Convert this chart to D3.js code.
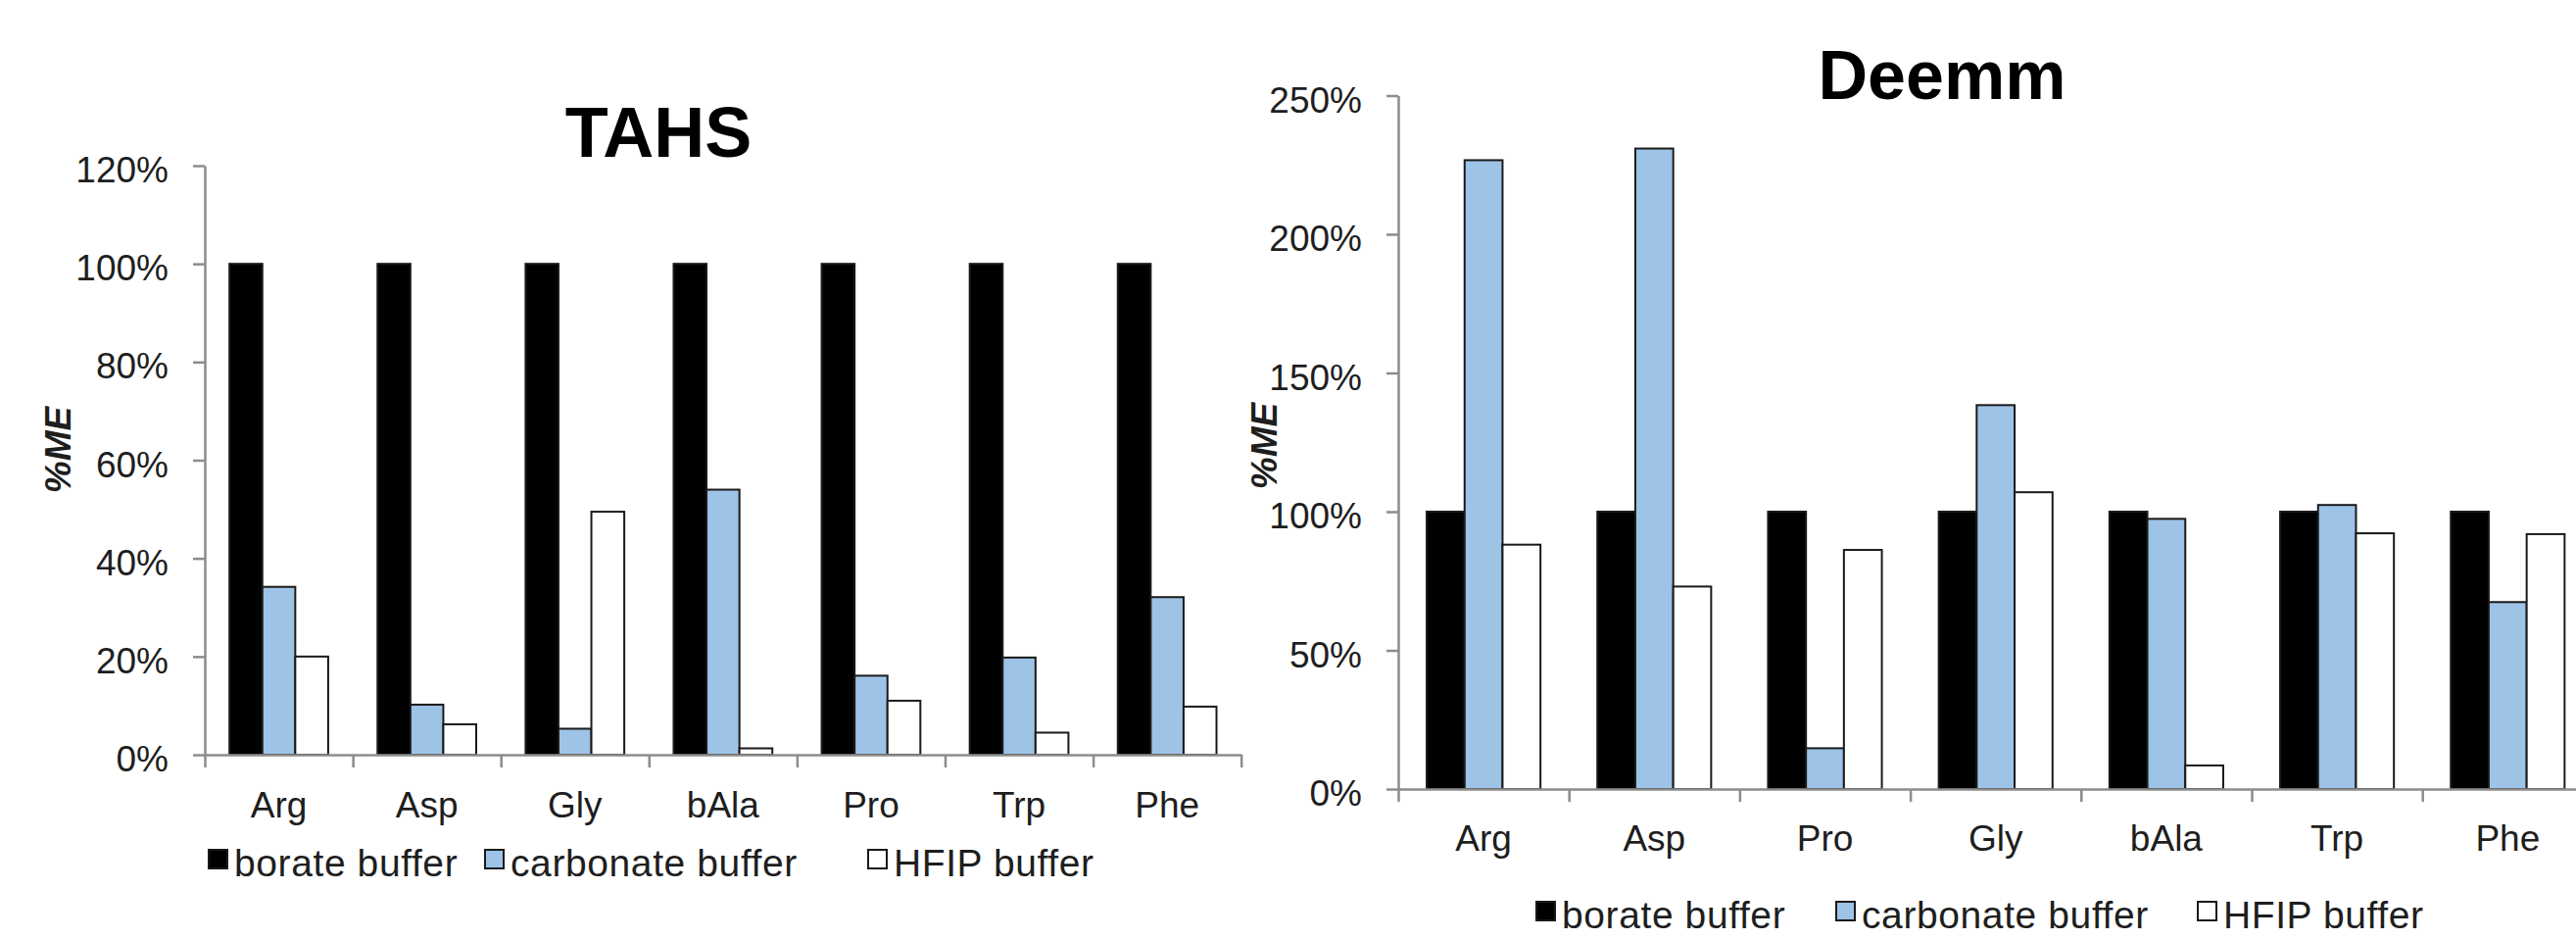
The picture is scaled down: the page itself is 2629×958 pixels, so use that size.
<!DOCTYPE html>
<html>
<head>
<meta charset="utf-8">
<script src="https://cdn.jsdelivr.net/npm/d3@7"></script>
<style>
  html, body { margin: 0; padding: 0; background: #fff; }
  svg { display: block; }
  text { font-family: "Liberation Sans", Arial, sans-serif; }
</style>
</head>
<body>
<svg id="chart" width="2629" height="958"></svg>
<script>
// ---- data ----
const seriesNames = ["borate buffer", "carbonate buffer", "HFIP buffer"];

const tahsCategories = ["Arg", "Asp", "Gly", "bAla", "Pro", "Trp", "Phe"];
const tahsBorate     = [100, 100, 100, 100, 100, 100, 100];
const tahsCarbonate  = [34.2, 10.2, 5.3, 54, 16.1, 19.8, 32.1];
const tahsHFIP       = [20, 6.2, 49.5, 1.3, 11, 4.5, 9.8];
const tahsTicks      = [0, 20, 40, 60, 80, 100, 120];

const deemmCategories = ["Arg", "Asp", "Pro", "Gly", "bAla", "Trp", "Phe"];
const deemmBorate     = [100, 100, 100, 100, 100, 100, 100];
const deemmCarbonate  = [226.7, 230.9, 14.7, 138.4, 97.4, 102.4, 67.4];
const deemmHFIP       = [88.1, 73, 86.2, 107, 8.5, 92.2, 91.9];
const deemmTicks      = [0, 50, 100, 150, 200, 250];

// ---- styles ----
const fills = ["#000000", "#9dc3e6", "#ffffff"];
const axisColor = "#8c8c8c";
const textColor = "#1e1e1e";

const svg = d3.select("#chart");

function drawChart(cfg) {
  const g = svg.append("g");
  const y = d3.scaleLinear().domain([0, cfg.yMax]).range([cfg.y0, cfg.yTop]);
  const x = d3.scaleBand().domain(cfg.categories).range([cfg.x0, cfg.x0 + cfg.step * cfg.categories.length]).paddingInner(0).paddingOuter(0);
  const xs = d3.scaleBand().domain(seriesNames).range([0, x.bandwidth()]).paddingInner(0).paddingOuter(0.75);

  const rows = cfg.categories.map((c, i) => ({
    cat: c,
    vals: [cfg.s[0][i], cfg.s[1][i], cfg.s[2][i]]
  }));

  // bars
  const grp = g.append("g").selectAll("g").data(rows).join("g")
    .attr("transform", d => `translate(${x(d.cat)},0)`);
  grp.selectAll("rect").data(d => d.vals.map((v, k) => ({ v, k })))
    .join("rect")
    .attr("x", d => xs(seriesNames[d.k]))
    .attr("width", xs.bandwidth())
    .attr("y", d => y(d.v))
    .attr("height", d => y(0) - y(d.v))
    .attr("fill", d => fills[d.k])
    .attr("stroke", "#1a1a1a")
    .attr("stroke-width", 2);

  // y axis
  const ya = g.append("g").attr("transform", `translate(${cfg.x0},0)`)
    .call(d3.axisLeft(y).tickValues(cfg.ticks).tickFormat(d => d + "%").tickSize(12).tickSizeOuter(0).tickPadding(25));
  ya.select(".domain").attr("stroke", axisColor).attr("stroke-width", 2.5);
  ya.selectAll(".tick line").attr("stroke", axisColor).attr("stroke-width", 2.5);
  ya.selectAll(".tick text").attr("fill", textColor).attr("font-size", 37).attr("dy", "0.45em");

  // x axis boundaries
  const n = cfg.categories.length;
  const xb = d3.scaleLinear().domain([0, n]).range([cfg.x0, cfg.x0 + cfg.step * n]);
  const xa = g.append("g").attr("transform", `translate(0,${cfg.y0})`)
    .call(d3.axisBottom(xb).tickValues(d3.range(n + 1)).tickFormat("").tickSize(13).tickSizeOuter(0));
  xa.select(".domain").attr("stroke", axisColor).attr("stroke-width", 2.5);
  xa.selectAll(".tick line").attr("stroke", axisColor).attr("stroke-width", 2.5);

  // category labels
  const xl = g.append("g").attr("transform", `translate(0,${cfg.y0})`)
    .call(d3.axisBottom(x).tickSize(0).tickPadding(cfg.labelPad));
  xl.select(".domain").remove();
  xl.selectAll(".tick text").attr("fill", textColor).attr("font-size", 37);

  // title
  g.append("text").attr("x", cfg.titleX).attr("y", cfg.titleY)
    .attr("text-anchor", "middle").attr("font-weight", "bold")
    .attr("font-size", cfg.titleSize).attr("fill", "#000").text(cfg.title);

  // y label
  g.append("text")
    .attr("transform", `translate(${cfg.ylabX},${cfg.ylabY}) rotate(-90)`)
    .attr("text-anchor", "middle").attr("dy", "0.35em")
    .attr("font-weight", "bold").attr("font-style", "italic")
    .attr("font-size", 37).attr("fill", textColor).text("%ME");

  // legend
  const lg = g.append("g");
  seriesNames.forEach((name, k) => {
    lg.append("rect")
      .attr("x", cfg.legX[k]).attr("y", cfg.legY - 27)
      .attr("width", 19).attr("height", 19)
      .attr("fill", fills[k]).attr("stroke", "#1a1a1a").attr("stroke-width", 2);
    lg.append("text")
      .attr("x", cfg.legX[k] + 26).attr("y", cfg.legY)
      .attr("font-size", 39).attr("letter-spacing", 0.6)
      .attr("fill", textColor).text(name);
  });
}

drawChart({
  categories: tahsCategories,
  s: [tahsBorate, tahsCarbonate, tahsHFIP],
  ticks: tahsTicks, yMax: 120,
  x0: 209, step: 151.1, y0: 770, yTop: 169,
  labelPad: 38,
  title: "TAHS", titleX: 672, titleY: 160, titleSize: 72,
  ylabX: 59, ylabY: 459,
  legX: [213, 495, 886], legY: 894
});

drawChart({
  categories: deemmCategories,
  s: [deemmBorate, deemmCarbonate, deemmHFIP],
  ticks: deemmTicks, yMax: 250,
  x0: 1427, step: 174.2, y0: 805, yTop: 97.5,
  labelPad: 37,
  title: "Deemm", titleX: 1982, titleY: 101, titleSize: 70,
  ylabX: 1290, ylabY: 455,
  legX: [1568, 1874, 2243], legY: 947
});
</script>
</body>
</html>
